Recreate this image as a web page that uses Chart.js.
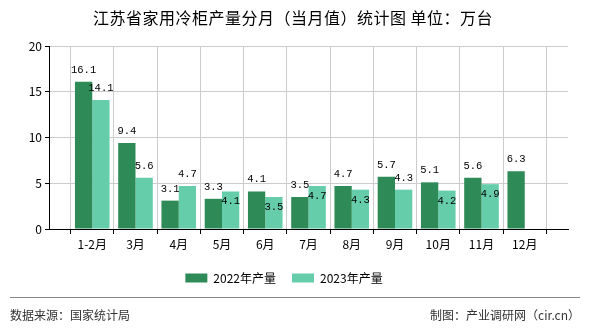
<!DOCTYPE html>
<html>
<head>
<meta charset="utf-8">
<script src="https://cdn.jsdelivr.net/npm/chart.js@4"></script>
<style>
  html, body { margin:0; padding:0; background:#fff; }
  #wrap { width:590px; height:330px; position:relative; }
</style>
</head>
<body>
<div id="wrap"><canvas id="chart" width="590" height="330"></canvas></div>
<script>
const categories = ["1-2月","3月","4月","5月","6月","7月","8月","9月","10月","11月","12月"];
const output2022 = [16.1, 9.4, 3.1, 3.3, 4.1, 3.5, 4.7, 5.7, 5.1, 5.6, 6.3];
const output2023 = [14.1, 5.6, 4.7, 4.1, 3.5, 4.7, 4.3, 4.3, 4.2, 4.9, null];
const yTicks = [0, 5, 10, 15, 20];

const CJK = '"Noto Sans CJK SC", "DejaVu Sans", sans-serif';

// bars sit on the tick lines, so pad one empty slot on each side
const labels = ["", ...categories, ""];
const pad = arr => [null, ...arr, null];

// value labels; the 2023 one drops inside its bar when it would run into the 2022 one
const valueLabels = {
  id: "valueLabels",
  afterDatasetsDraw(chart) {
    const ctx = chart.ctx;
    const bars22 = chart.getDatasetMeta(0).data;
    const bars23 = chart.getDatasetMeta(1).data;
    ctx.save();
    ctx.font = '10.5px "Liberation Mono", "DejaVu Sans Mono", monospace';
    ctx.fillStyle = "#000";
    ctx.textAlign = "center";
    ctx.textBaseline = "alphabetic";
    chart.data.datasets[0].data.forEach((v, j) => {
      if(v == null) return;
      ctx.fillText(v.toFixed(1), bars22[j].x, bars22[j].y - 9);
    });
    chart.data.datasets[1].data.forEach((v, j) => {
      if(v == null) return;
      const b = bars23[j];
      const clash = Math.abs(b.y - bars22[j].y) < 12.5;
      ctx.fillText(v.toFixed(1), b.x, clash ? b.y + 13 : b.y - 9);
    });
    ctx.restore();
  }
};

const titleAndFooter = {
  id: "titleAndFooter",
  afterDraw(chart) {
    const ctx = chart.ctx;
    ctx.save();
    ctx.font = "16px " + CJK;
    ctx.fillStyle = "#000";
    ctx.textAlign = "center";
    ctx.textBaseline = "middle";
    ctx.letterSpacing = "0.5px";
    ctx.fillText("江苏省家用冷柜产量分月（当月值）统计图 单位：万台", 293, 18);
    ctx.letterSpacing = "0px";

    ctx.strokeStyle = "#888";
    ctx.lineWidth = 1;
    ctx.beginPath();
    ctx.moveTo(10, 297.5);
    ctx.lineTo(580, 297.5);
    ctx.stroke();
    ctx.font = "12px " + CJK;
    ctx.fillStyle = "#333";
    ctx.textAlign = "left";
    ctx.fillText("数据来源：国家统计局", 10, 315);
    ctx.textAlign = "right";
    ctx.fillText("制图：产业调研网（cir.cn）", 580, 315);
    ctx.restore();
  }
};

new Chart(document.getElementById("chart"), {
  type: "bar",
  data: {
    labels: labels,
    datasets: [
      { label: "2022年产量", data: pad(output2022), backgroundColor: "#2e8b57" },
      { label: "2023年产量", data: pad(output2023), backgroundColor: "#66cdaa" }
    ]
  },
  options: {
    responsive: false,
    animation: false,
    layout: { padding: { left: 0, right: 22, top: 46, bottom: 36 } },
    datasets: { bar: { categoryPercentage: 0.8, barPercentage: 1.0 } },
    plugins: {
      title: { display: false },
      legend: {
        position: "bottom",
        labels: {
          color: "#000",
          font: { family: CJK, size: 12 },
          boxWidth: 22,
          boxHeight: 9,
          padding: 16
        }
      },
      tooltip: { enabled: false }
    },
    scales: {
      x: {
        offset: false,
        grid: { color: "#ccc", tickColor: "#000", tickLength: 5 },
        border: { color: "#000" },
        ticks: { color: "#000", font: { family: CJK, size: 12 }, autoSkip: false, maxRotation: 0, padding: 3 },
        afterFit(scale) { scale.height = 27; }
      },
      y: {
        min: 0,
        max: 20,
        afterBuildTicks(scale) { scale.ticks = yTicks.map(v => ({ value: v })); },
        grid: { color: "#ccc", tickColor: "#000", tickLength: 4 },
        border: { color: "#000" },
        ticks: { color: "#000", font: { family: CJK, size: 12 }, padding: 3 },
        afterFit(scale) { scale.width = 49; }
      }
    }
  },
  plugins: [valueLabels, titleAndFooter]
});
</script>
</body>
</html>
